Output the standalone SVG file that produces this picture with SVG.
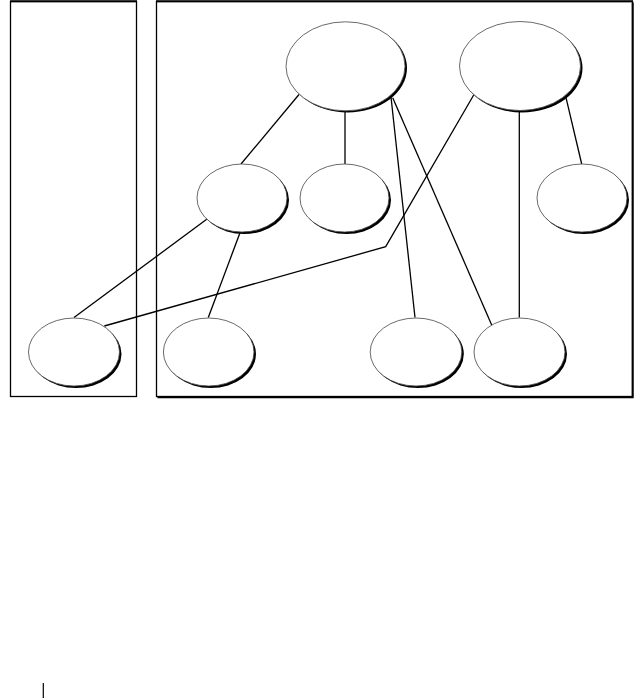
<svg xmlns="http://www.w3.org/2000/svg" width="641" height="698" viewBox="0 0 641 698">
<style>
.frame{fill:none;stroke:#000;stroke-width:1.3}
.edge{fill:none;stroke:#000;stroke-width:1.3}
.sh{fill:#000}
.nd{fill:#fff;stroke:#444;stroke-width:0.8}
</style>
<rect width="641" height="698" fill="#fff"/>
<g id="frames">
<rect class="frame" x="10.5" y="1.5" width="126" height="395"/>
<rect class="frame" x="156.5" y="1.5" width="476" height="395"/>
<path d="M632.7 2.5V397.3H157.5" fill="none" stroke="#000" stroke-width="2"/>
<line x1="10" y1="1.2" x2="137" y2="1.2" stroke="#000" stroke-width="2"/>
<line x1="156" y1="1.2" x2="633" y2="1.2" stroke="#000" stroke-width="2"/>
</g>
<g id="connectors">
<line class="edge" x1="299" y1="94.5" x2="241" y2="164"/>
<line class="edge" x1="345" y1="111" x2="345" y2="164"/>
<line class="edge" x1="391" y1="97" x2="415" y2="317.5"/>
<line class="edge" x1="392.7" y1="97.7" x2="491.7" y2="325"/>
<polyline class="edge" points="473.7,95 385.7,246.7 104.3,326"/>
<line class="edge" x1="519.3" y1="111" x2="519.3" y2="317.5"/>
<line class="edge" x1="566" y1="97.7" x2="581.7" y2="164"/>
<line class="edge" x1="206.7" y1="219.3" x2="74" y2="317.5"/>
<line class="edge" x1="240" y1="232.7" x2="208.3" y2="317.5"/>
</g>
<g id="n1"><ellipse class="sh" cx="347.5" cy="68" rx="59.5" ry="44.5"/><ellipse class="nd" cx="345.5" cy="66.3" rx="59.5" ry="44.5"/></g>
<g id="n2"><ellipse class="sh" cx="522" cy="68" rx="60.5" ry="44.5"/><ellipse class="nd" cx="520" cy="66" rx="60.5" ry="44.5"/></g>
<g id="n3"><ellipse class="sh" cx="244" cy="200" rx="45" ry="34"/><ellipse class="nd" cx="242" cy="198" rx="45" ry="34"/></g>
<g id="n4"><ellipse class="sh" cx="346.5" cy="200" rx="44.5" ry="34"/><ellipse class="nd" cx="344.5" cy="198" rx="44.5" ry="34"/></g>
<g id="n5"><ellipse class="sh" cx="584" cy="200" rx="45" ry="34"/><ellipse class="nd" cx="582" cy="198" rx="45" ry="34"/></g>
<g id="n6"><ellipse class="sh" cx="76" cy="354" rx="45.5" ry="34"/><ellipse class="nd" cx="74" cy="352" rx="45.5" ry="34"/></g>
<g id="n7"><ellipse class="sh" cx="210.7" cy="354" rx="45.3" ry="34"/><ellipse class="nd" cx="208.7" cy="352" rx="45.3" ry="34"/></g>
<g id="n8"><ellipse class="sh" cx="418" cy="354" rx="45.8" ry="34"/><ellipse class="nd" cx="416" cy="352" rx="45.8" ry="34"/></g>
<g id="n9"><ellipse class="sh" cx="521.5" cy="354" rx="45.5" ry="34"/><ellipse class="nd" cx="519.5" cy="352" rx="45.5" ry="34"/></g>
<line x1="43.3" y1="683" x2="43.3" y2="698" stroke="#000" stroke-width="1.2"/>
</svg>
